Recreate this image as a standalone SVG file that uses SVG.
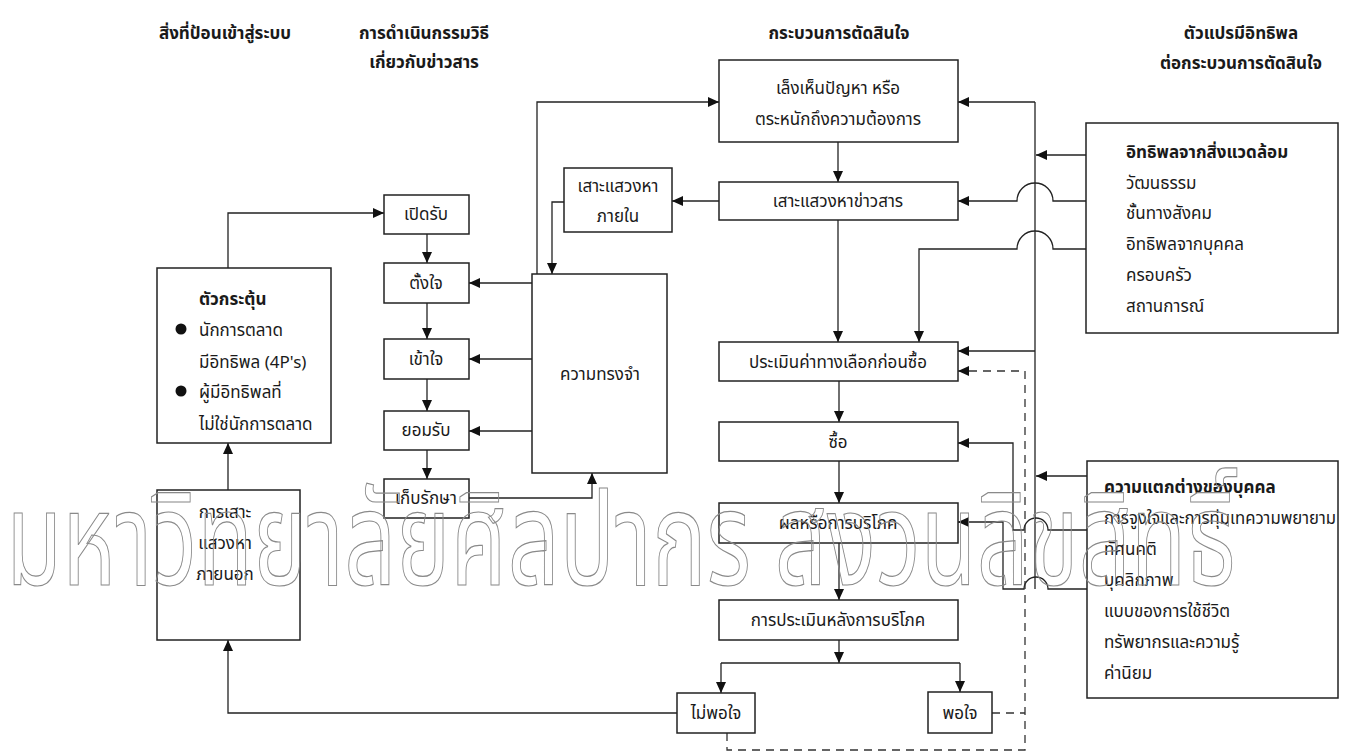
<svg xmlns="http://www.w3.org/2000/svg" width="1351" height="753" viewBox="0 0 1351 753">
<defs>
<marker id="ah" markerUnits="userSpaceOnUse" markerWidth="12" markerHeight="10" refX="11" refY="5" orient="auto">
<path d="M0,0 L11,5 L0,10 z" fill="#111"/>
</marker>
<style>
text{font-family:"Noto Sans Thai","Noto Sans","DejaVu Sans",sans-serif;font-size:17px;fill:#1a1a1a}
.h{font-weight:bold}
.c{text-anchor:middle}
.b{font-weight:bold}
rect{fill:#fff;stroke:#222;stroke-width:1.5}
.ln{fill:none;stroke:#222;stroke-width:1.3}
.ar{fill:none;stroke:#222;stroke-width:1.3;marker-end:url(#ah)}
.ds{fill:none;stroke:#333;stroke-width:1.3;stroke-dasharray:8 6}
.wm{font-size:130px;fill:none;stroke:#8a8a8a;stroke-width:1.2}
</style>
</defs>
<rect x="0" y="0" width="1351" height="753" style="fill:#fff;stroke:none"/>

<g id="headers">
<text class="h c" x="225" y="39">สิ่งที่ป้อนเข้าสู่ระบบ</text>
<text class="h c" x="424" y="39">การดำเนินกรรมวิธี</text>
<text class="h c" x="424" y="68">เกี่ยวกับข่าวสาร</text>
<text class="h c" x="839" y="39">กระบวนการตัดสินใจ</text>
<text class="h c" x="1241" y="39">ตัวแปรมีอิทธิพล</text>
<text class="h c" x="1241" y="69">ต่อกระบวนการตัดสินใจ</text>
</g>

<g id="connectors">
<path class="ar" d="M228,268 V213 H384"/>
<path class="ar" d="M427,234 V263"/>
<path class="ar" d="M427,303 V339"/>
<path class="ar" d="M427,379 V411"/>
<path class="ar" d="M427,450 V479"/>
<path class="ar" d="M469,498 H592 V473"/>
<path class="ar" d="M532,283 H469"/>
<path class="ar" d="M532,359 H469"/>
<path class="ar" d="M532,431 H469"/>
<path class="ar" d="M537,274 V102 H719"/>
<path class="ar" d="M564,202 H552 V274"/>
<path class="ar" d="M719,201 H672"/>
<path class="ar" d="M838,142 V182"/>
<path class="ar" d="M838,220 V342"/>
<path class="ar" d="M1086,249 H1053 A18,18 0 0 0 1017,249 H919 V342"/>
<path class="ar" d="M1086,201 H1053 A18,18 0 0 0 1017,201 H958"/>
<path class="ar" d="M1086,155 H1036"/>
<path class="ln" d="M1035,102 V589"/>
<path class="ar" d="M1035,102 H958"/>
<path class="ar" d="M1035,351 H958"/>
<path class="ar" d="M1087,476 H1036"/>
<path class="ar" d="M1087,530 H1048 A12,12 0 0 0 1024,530 H1013 V443 H958"/>
<path class="ar" d="M1087,589 H1048 A12,12 0 0 0 1024,589 H1003 V522 H958"/>
<path class="ds" d="M727,733 V750 H1025 V371 H968"/>
<path class="ar" d="M966,371 H958"/>
<path class="ds" d="M992,713 H1025"/>
<path class="ar" d="M677,713 H228 V640"/>
<path class="ar" d="M228,490 V443"/>
<path class="ar" d="M839,381 V422"/>
<path class="ar" d="M839,461 V503"/>
<path class="ar" d="M839,543 V600"/>
<path class="ar" d="M839,640 V663"/>
<path class="ln" d="M721,663 H960"/>
<path class="ar" d="M721,663 V693"/>
<path class="ar" d="M960,663 V692"/>
</g>

<g id="stimulus">
<rect x="157" y="268" width="174" height="175"/>
<text class="b" x="199" y="305">ตัวกระตุ้น</text>
<circle cx="181" cy="329" r="5.5" fill="#111"/>
<text x="199" y="336">นักการตลาด</text>
<text x="199" y="368">มีอิทธิพล  (4P's)</text>
<circle cx="181" cy="391" r="5.5" fill="#111"/>
<text x="199" y="398">ผู้มีอิทธิพลที่</text>
<text x="199" y="430">ไม่ใช่นักการตลาด</text>
</g>

<g id="external-search">
<rect x="157" y="490" width="143" height="150"/>
<text class="c" x="225" y="518">การเสาะ</text>
<text class="c" x="225" y="549">แสวงหา</text>
<text class="c" x="225" y="580">ภายนอก</text>
</g>

<g id="exposure"><rect x="384" y="195" width="85" height="39"/><text class="c" x="426" y="220">เปิดรับ</text></g>
<g id="attention"><rect x="384" y="263" width="85" height="40"/><text class="c" x="426" y="289">ตั้งใจ</text></g>
<g id="comprehension"><rect x="384" y="339" width="85" height="40"/><text class="c" x="426" y="365">เข้าใจ</text></g>
<g id="acceptance"><rect x="384" y="411" width="85" height="39"/><text class="c" x="426" y="436">ยอมรับ</text></g>
<g id="retention"><rect x="384" y="479" width="85" height="39"/><text class="c" x="426" y="504">เก็บรักษา</text></g>

<g id="memory"><rect x="532" y="274" width="135" height="199"/><text class="c" x="600" y="380">ความทรงจำ</text></g>
<g id="internal-search"><rect x="564" y="168" width="108" height="64"/><text class="c" x="618" y="192">เสาะแสวงหา</text><text class="c" x="618" y="222">ภายใน</text></g>

<g id="need-recognition"><rect x="719" y="60" width="239" height="82"/><text class="c" x="838" y="94">เล็งเห็นปัญหา  หรือ</text><text class="c" x="838" y="125">ตระหนักถึงความต้องการ</text></g>
<g id="info-search"><rect x="719" y="182" width="239" height="38"/><text class="c" x="838" y="207">เสาะแสวงหาข่าวสาร</text></g>
<g id="evaluation"><rect x="719" y="342" width="239" height="39"/><text class="c" x="838" y="368">ประเมินค่าทางเลือกก่อนซื้อ</text></g>
<g id="purchase"><rect x="719" y="422" width="239" height="39"/><text class="c" x="838" y="448">ซื้อ</text></g>
<g id="consumption"><rect x="719" y="503" width="239" height="40"/><text class="c" x="838" y="529">ผลหรือการบริโภค</text></g>
<g id="post-evaluation"><rect x="719" y="600" width="239" height="40"/><text class="c" x="838" y="626">การประเมินหลังการบริโภค</text></g>
<g id="dissatisfied"><rect x="677" y="693" width="78" height="40"/><text class="c" x="716" y="719">ไม่พอใจ</text></g>
<g id="satisfied"><rect x="928" y="692" width="64" height="41"/><text class="c" x="960" y="719">พอใจ</text></g>

<g id="environment">
<rect x="1086" y="123" width="252" height="210"/>
<text class="b" x="1126" y="158">อิทธิพลจากสิ่งแวดล้อม</text>
<text x="1126" y="189">วัฒนธรรม</text>
<text x="1126" y="219">ชั้นทางสังคม</text>
<text x="1126" y="250">อิทธิพลจากบุคคล</text>
<text x="1126" y="281">ครอบครัว</text>
<text x="1126" y="312">สถานการณ์</text>
</g>

<g id="individual">
<rect x="1087" y="461" width="251" height="237"/>
<text class="b" x="1104" y="493">ความแตกต่างของบุคคล</text>
<text x="1104" y="524" textLength="232" lengthAdjust="spacingAndGlyphs">การจูงใจและการทุ่มเทความพยายาม</text>
<text x="1104" y="555">ทัศนคติ</text>
<text x="1104" y="586">บุคลิกภาพ</text>
<text x="1104" y="617">แบบของการใช้ชีวิต</text>
<text x="1104" y="648">ทรัพยากรและความรู้</text>
<text x="1104" y="679">ค่านิยม</text>
</g>

<text class="wm" x="6" y="585" textLength="1230" lengthAdjust="spacingAndGlyphs">มหาวิทยาลัยศิลปากร สงวนลิขสิทธิ์</text>
</svg>
